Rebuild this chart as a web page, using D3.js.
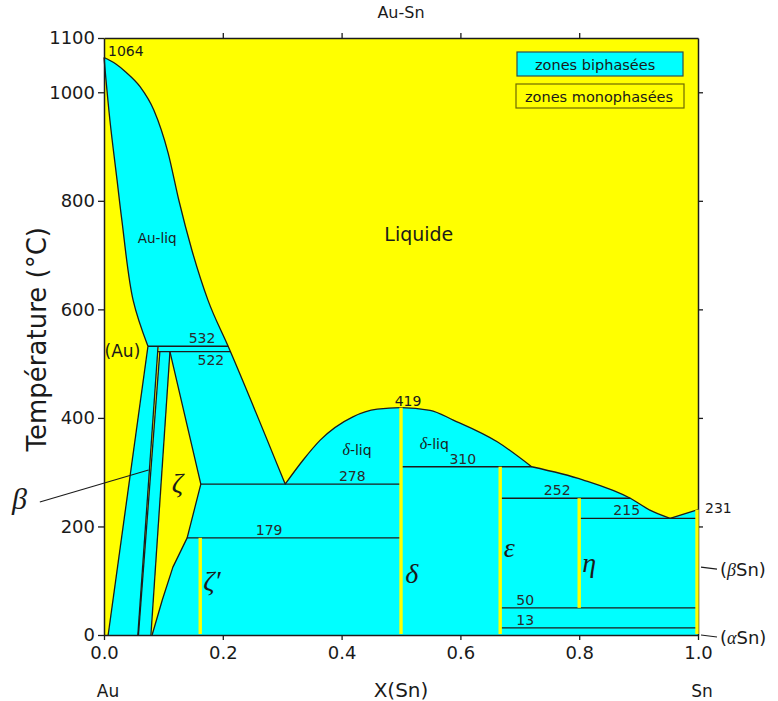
<!DOCTYPE html>
<html lang="fr">
<head>
    <meta charset="UTF-8">
    <script src="https://d3js.org/d3.v7.min.js"></script>
    <title>Au-Sn</title>
    <style>
        body { margin: 0; background: #fff; }
        text { font-family: "DejaVu Sans", sans-serif; }
    </style>
</head>
<body>
<div id="viz"></div>
<script>
    // axis ticks
    const xTicks = [0, 0.2, 0.4, 0.6, 0.8, 1.0];
    const yTicks = [0, 200, 400, 600, 800, 1000, 1100];

    // liquidus, split at the cusps (x Sn, T °C)
    const liqAu = [[0, 1064], [0.020, 1052], [0.037, 1037], [0.061, 1010], [0.084, 967], [0.108, 888], [0.126, 801], [0.148, 709], [0.175, 617], [0.209, 532], [0.305, 278]];
    const liqDelta = [[0.305, 278], [0.335, 322], [0.364, 359], [0.419, 402], [0.46, 416], [0.5, 419], [0.549, 414], [0.588, 396], [0.662, 356], [0.72, 310]];
    const liqEta = [[0.72, 310], [0.806, 286], [0.886, 252], [0.919, 230], [0.953, 215]];
    const liqSn = [[0.953, 215], [1.0, 231]];

    // (Au) solid solution
    const solidusAu = [[0, 1064], [0.010, 948], [0.022, 838], [0.03, 765], [0.049, 617], [0.074, 532]];
    const solvusAu = [[0.074, 532], [0.007, 0]];

    // beta and zeta single phase fields
    const betaField = [[0.091, 532], [0.094, 522], [0.058, 0], [0.057, 0]];
    const zetaField = [[0.111, 522], [0.163, 278], [0.140, 179], [0.116, 125], [0.098, 64], [0.081, 0], [0.079, 0]];

    // invariant lines
    const invT = [532, 522, 278, 179, 310, 252, 215, 50, 13];
    const invX0 = [0.074, 0.091, 0.163, 0.140, 0.5, 0.667, 0.80, 0.667, 0.667];
    const invX1 = [0.209, 0.213, 0.5, 0.5, 0.72, 0.886, 1.0, 1.0, 1.0];
    const invLabelX = [0.165, 0.18, 0.418, 0.278, 0.604, 0.763, 0.88, 0.709, 0.709];
    const invBelow = [false, true, false, false, false, false, false, false, false];

    // stoichiometric compounds (zeta', delta, eps, eta, Sn)
    const compX = [0.162, 0.5, 0.667, 0.80, 1.0];
    const compTop = [179, 419, 310, 252, 231];
    const compBottom = [0, 0, 0, 50, 0];

    // greek phase names
    const phaseNames = ["ζ", "ζ′", "δ", "ε", "η"];
    const phaseX = [0.114, 0.167, 0.507, 0.673, 0.805];
    const phaseT = [263, 83, 96, 144, 116];

    const W = 778, H = 701;
    const margin = {top: 38, right: 80, bottom: 66, left: 104};

    const svg = d3.select("#viz")
        .append("svg")
        .attr("width", W)
        .attr("height", H);

    const x = d3.scaleLinear().domain([0, 1]).range([margin.left, W - margin.right]);
    const y = d3.scaleLinear().domain([0, 1100]).range([H - margin.bottom, margin.top]);

    const liqGen = d3.line().x(d => x(d[0])).y(d => y(d[1])).curve(d3.curveMonotoneX);
    const lineGen = d3.line().x(d => x(d[0])).y(d => y(d[1])).curve(d3.curveCatmullRom.alpha(0.5));
    const straight = d3.line().x(d => x(d[0])).y(d => y(d[1]));

    const YEL = "#ffff00", CYAN = "#00ffff", INK = "#1c1c1c";

    // background = single phase (yellow)
    svg.append("rect")
        .attr("x", x(0)).attr("y", y(1100))
        .attr("width", x(1) - x(0)).attr("height", y(0) - y(1100))
        .attr("fill", YEL);

    // everything under the liquidus is two-phase (cyan)
    const liqPath = [liqAu, liqDelta, liqEta].map((s, i) => {
        const p = liqGen(s);
        return i === 0 ? p : p.replace(/^M/, "L");
    }).join("") + straight(liqSn).replace(/^M/, "L");

    svg.append("path")
        .attr("d", liqPath + `L${x(1)},${y(0)}L${x(0)},${y(0)}Z`)
        .attr("fill", CYAN);

    // (Au) field
    svg.append("path")
        .attr("d", lineGen(solidusAu) + `L${x(solvusAu[1][0])},${y(0)}L${x(0)},${y(0)}Z`)
        .attr("fill", YEL);

    svg.append("path").attr("d", straight(betaField) + "Z").attr("fill", YEL);
    svg.append("path").attr("d", straight(zetaField) + "Z").attr("fill", YEL);

    // boundary lines
    const lines = svg.append("g")
        .attr("fill", "none")
        .attr("stroke", INK)
        .attr("stroke-width", 1.3)
        .attr("stroke-linejoin", "round");

    lines.append("path").attr("d", liqPath);
    lines.append("path").attr("d", lineGen(solidusAu));
    lines.append("path").attr("d", straight(solvusAu));
    lines.append("path").attr("d", straight([betaField[0], betaField[3]]));
    lines.append("path").attr("d", straight([betaField[1], betaField[2]]));
    lines.append("path").attr("d", straight([zetaField[0], zetaField[6]]));
    lines.append("path").attr("d", straight(zetaField.slice(0, 6)));

    lines.selectAll(".inv")
        .data(invT)
        .join("line")
        .attr("x1", (d, i) => x(invX0[i]))
        .attr("x2", (d, i) => x(invX1[i]))
        .attr("y1", d => y(d))
        .attr("y2", d => y(d));

    // labels of the invariant temperatures
    svg.append("g")
        .selectAll("text")
        .data(invT)
        .join("text")
        .attr("x", (d, i) => x(invLabelX[i]))
        .attr("y", (d, i) => invBelow[i] ? y(d) + 13 : y(d) - 3)
        .attr("text-anchor", "middle")
        .style("font-size", "14px")
        .attr("fill", "#2b2b2b")
        .text(d => d);

    // axes
    const axisStyle = g => {
        g.select(".domain").attr("stroke", INK).attr("stroke-width", 1.5);
        g.selectAll(".tick line").attr("stroke", INK).attr("stroke-width", 1.3);
        g.selectAll(".tick text").style("font-size", "18px").attr("fill", "#1a1a1a")
            .style("font-family", "'DejaVu Sans', sans-serif");
    };

    svg.append("g")
        .attr("transform", `translate(${x(1)},0)`)
        .call(d3.axisRight(y).tickValues([200, 400, 600, 800, 1000]).tickSize(5).tickSizeOuter(0).tickFormat(""))
        .call(axisStyle);

    // compound lines
    svg.append("g")
        .selectAll("line")
        .data(compX)
        .join("line")
        .attr("x1", d => x(d) - (d === 1 ? 1 : 0))
        .attr("x2", d => x(d) - (d === 1 ? 1 : 0))
        .attr("y1", (d, i) => y(compTop[i]))
        .attr("y2", (d, i) => y(compBottom[i]) - (compBottom[i] === 0 ? 1 : 0))
        .attr("stroke", YEL)
        .attr("stroke-width", 3.4);

    svg.append("g")
        .attr("transform", `translate(${x(0)},0)`)
        .call(d3.axisLeft(y).tickValues(yTicks).tickSize(6).tickSizeOuter(0).tickPadding(3).tickFormat(d3.format("d")))
        .call(axisStyle);

    svg.append("g")
        .attr("transform", `translate(0,${y(0)})`)
        .call(d3.axisBottom(x).tickValues(xTicks).tickSize(5).tickSizeOuter(0).tickPadding(6).tickFormat(d3.format(".1f")))
        .call(axisStyle);

    svg.append("g")
        .attr("transform", `translate(0,${y(1100)})`)
        .call(d3.axisTop(x).tickValues([0.2, 0.4, 0.6, 0.8]).tickSize(5).tickSizeOuter(0).tickFormat(""))
        .call(axisStyle);

    // melting points
    svg.append("text").attr("x", x(0) + 4).attr("y", y(1064) - 2)
        .style("font-size", "14px").attr("fill", "#1a1a1a").text("1064");
    svg.append("text").attr("x", x(1) + 7).attr("y", y(231) + 3)
        .style("font-size", "14px").attr("fill", "#1a1a1a").text("231");
    svg.append("text").attr("x", x(0.5) + 7).attr("y", y(419) - 2)
        .attr("text-anchor", "middle")
        .style("font-size", "14px").attr("fill", "#1a1a1a").text("419");

    // region names
    svg.append("text").attr("x", x(0.0895)).attr("y", 243)
        .attr("text-anchor", "middle").style("font-size", "13.5px").attr("fill", "#1a1a1a").text("Au-liq");
    svg.append("text").attr("x", x(0.53)).attr("y", 241)
        .attr("text-anchor", "middle").style("font-size", "19px").attr("fill", "#1a1a1a").text("Liquide");
    svg.append("text").attr("x", x(0.001)).attr("y", y(532) + 11)
        .style("font-size", "17px").attr("fill", "#1a1a1a").text("(Au)");

    const dLiq = [[0.426, 332], [0.556, 343]];
    dLiq.forEach(p => {
        const t = svg.append("text").attr("x", x(p[0])).attr("y", y(p[1]))
            .attr("text-anchor", "middle").style("font-size", "14px").attr("fill", "#1a1a1a");
        t.append("tspan").style("font-family", "'Liberation Serif', serif").style("font-style", "italic")
            .style("font-size", "16px").text("δ");
        t.append("tspan").text("-liq");
    });

    svg.append("g")
        .selectAll("text")
        .data(phaseNames)
        .join("text")
        .attr("x", (d, i) => x(phaseX[i]))
        .attr("y", (d, i) => y(phaseT[i]))
        .style("font-family", "'Liberation Serif', serif")
        .style("font-style", "italic")
        .style("font-size", "28px")
        .attr("fill", "#1a1a1a")
        .text(d => d);

    // beta pointer
    svg.append("line")
        .attr("x1", x(-0.108)).attr("y1", y(245))
        .attr("x2", x(0.075)).attr("y2", y(304))
        .attr("stroke", INK).attr("stroke-width", 1.2);
    svg.append("text").attr("x", x(-0.155)).attr("y", y(232))
        .style("font-family", "'Liberation Serif', serif").style("font-style", "italic")
        .style("font-size", "30px").attr("fill", "#1a1a1a").text("β");

    // Sn allotropes
    const snNames = ["β", "α"];
    const snT = [125, 0];
    snNames.forEach((g, i) => {
        svg.append("line")
            .attr("x1", x(1) + 3).attr("y1", y(snT[i]))
            .attr("x2", x(1) + 19).attr("y2", y(snT[i]) + 2)
            .attr("stroke", INK).attr("stroke-width", 1.2);
        const t = svg.append("text").attr("x", x(1) + 22).attr("y", y(snT[i]) + 9)
            .style("font-size", "18px").attr("fill", "#1a1a1a");
        t.append("tspan").text("(");
        t.append("tspan").style("font-family", "'Liberation Serif', serif").style("font-style", "italic").text(g);
        t.append("tspan").text("Sn)");
    });

    // legend
    const legend = svg.append("g");
    legend.append("rect").attr("x", 517).attr("y", 52).attr("width", 166).attr("height", 24)
        .attr("fill", CYAN).attr("stroke", "#2f4f4f").attr("stroke-width", 1.2);
    legend.append("text").attr("x", 535).attr("y", 70).style("font-size", "14.5px").attr("fill", "#1a1a1a")
        .text("zones biphasées");
    legend.append("rect").attr("x", 516).attr("y", 84).attr("width", 168).attr("height", 24)
        .attr("fill", YEL).attr("stroke", "#6e6a00").attr("stroke-width", 1.2);
    legend.append("text").attr("x", 525).attr("y", 102).style("font-size", "14.5px").attr("fill", "#1a1a1a")
        .text("zones monophasées");

    // titles
    svg.append("text").attr("x", x(0.5)).attr("y", 18).attr("text-anchor", "middle")
        .style("font-size", "16px").attr("fill", "#1a1a1a").text("Au-Sn");
    svg.append("text").attr("x", x(0.5)).attr("y", 697).attr("text-anchor", "middle")
        .style("font-size", "20px").attr("fill", "#1a1a1a").text("X(Sn)");
    svg.append("text").attr("x", x(0) + 4).attr("y", 697).attr("text-anchor", "middle")
        .style("font-size", "17px").attr("fill", "#1a1a1a").text("Au");
    svg.append("text").attr("x", x(1) + 4).attr("y", 697).attr("text-anchor", "middle")
        .style("font-size", "17px").attr("fill", "#1a1a1a").text("Sn");
    svg.append("text")
        .attr("transform", `translate(46,${y(545)}) rotate(-90)`)
        .attr("text-anchor", "middle")
        .style("font-size", "26px").attr("fill", "#1a1a1a")
        .text("Température (°C)");
</script>
</body>
</html>
